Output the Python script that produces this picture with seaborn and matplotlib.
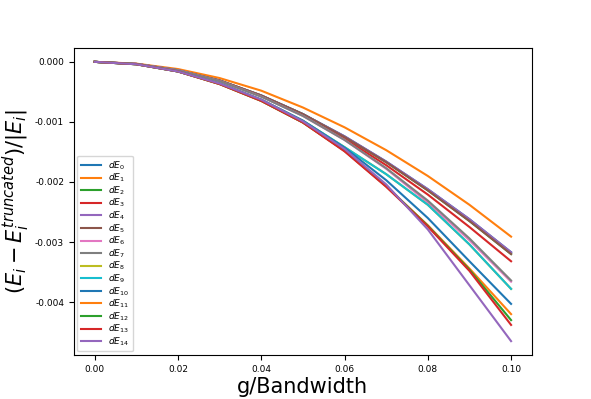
import matplotlib
matplotlib.use("Agg")
import matplotlib.pyplot as plt
import seaborn as sns
import numpy as np
import pandas as pd

g = [0.0, 0.01, 0.02, 0.03, 0.04, 0.05, 0.06, 0.07, 0.08, 0.09, 0.10]

dE0 = [0, -0.000035, -0.00014, -0.00031, -0.00056, -0.00087, -0.00124, -0.00166, -0.00212, -0.00262, -0.00317]
dE1 = [0, -0.00003, -0.00012, -0.00027, -0.00048, -0.00076, -0.00109, -0.00147, -0.0019, -0.00238, -0.00291]
dE2 = [0, -0.000035, -0.00014, -0.00031, -0.00056, -0.00087, -0.00125, -0.00167, -0.00214, -0.00265, -0.0032]
dE3 = [0, -0.000035, -0.00014, -0.00032, -0.00057, -0.00089, -0.00128, -0.00172, -0.00221, -0.00275, -0.00332]
dE4 = [0, -0.000035, -0.00014, -0.00031, -0.00056, -0.00087, -0.00124, -0.00166, -0.00212, -0.00262, -0.00317]
dE5 = [0, -0.000035, -0.00014, -0.00031, -0.00056, -0.00087, -0.00125, -0.00167, -0.00214, -0.00265, -0.0032]
dE6 = [0, -0.000035, -0.00014, -0.00032, -0.00058, -0.0009, -0.0013, -0.00178, -0.00234, -0.00297, -0.00366]
dE7 = [0, -0.000035, -0.00014, -0.00032, -0.00058, -0.0009, -0.0013, -0.00177, -0.00231, -0.00294, -0.00364]
dE8 = [0, -0.00004, -0.00016, -0.00036, -0.00063, -0.00098, -0.00142, -0.00187, -0.00238, -0.00304, -0.00378]
dE9 = [0, -0.00004, -0.00016, -0.00036, -0.00063, -0.00098, -0.00142, -0.00187, -0.00238, -0.00304, -0.00378]
dE10 = [0, -0.00004, -0.00016, -0.00036, -0.00063, -0.00098, -0.00143, -0.00197, -0.0026, -0.00332, -0.00403]
dE11 = [0, -0.00004, -0.00016, -0.00037, -0.00065, -0.00101, -0.00148, -0.00207, -0.00272, -0.00344, -0.0042]
dE12 = [0, -0.00004, -0.00016, -0.00037, -0.00065, -0.00101, -0.00148, -0.00207, -0.00273, -0.00346, -0.0043]
dE13 = [0, -0.00004, -0.00016, -0.00037, -0.00065, -0.00101, -0.00149, -0.00208, -0.00274, -0.00348, -0.00438]
dE14 = [0, -0.00004, -0.00016, -0.00036, -0.00063, -0.00099, -0.00145, -0.00204, -0.00279, -0.00372, -0.00465]

series = [dE0, dE1, dE2, dE3, dE4, dE5, dE6, dE7, dE8, dE9, dE10, dE11, dE12, dE13, dE14]
labels = [f"$dE_{{{i}}}$" for i in range(len(series))]

plt.rcParams["font.family"] = ["DejaVu Sans"]

fig, ax = plt.subplots(figsize=(5.91, 3.99), dpi=100)
colors = sns.color_palette("tab10", 10)
for i, (vals, lab) in enumerate(zip(series, labels)):
    sns.lineplot(x=g, y=vals, ax=ax, label=lab, color=colors[i % 10], linewidth=1.5)

ax.set_xlabel("g/Bandwidth", fontsize=15, labelpad=2)
ax.set_ylabel(r"$(E_i - E_i^{truncated})/|E_i|$", fontsize=15, labelpad=2)
ax.tick_params(axis="both", labelsize=6.5, length=3.5, width=0.8)
ax.set_xticks([0.0, 0.02, 0.04, 0.06, 0.08, 0.10])
ax.set_yticks([0.0, -0.001, -0.002, -0.003, -0.004])
ax.yaxis.set_major_formatter(matplotlib.ticker.FormatStrFormatter("%.3f"))
ax.xaxis.set_major_formatter(matplotlib.ticker.FormatStrFormatter("%.2f"))
ax.legend(loc="lower left", fontsize=6.5, handlelength=2.2, labelspacing=0.01,
          borderaxespad=0.4, handletextpad=0.8)
fig.subplots_adjust(left=0.125, right=0.9, top=0.88, bottom=0.11)
fig.savefig("out.png", dpi=100)
